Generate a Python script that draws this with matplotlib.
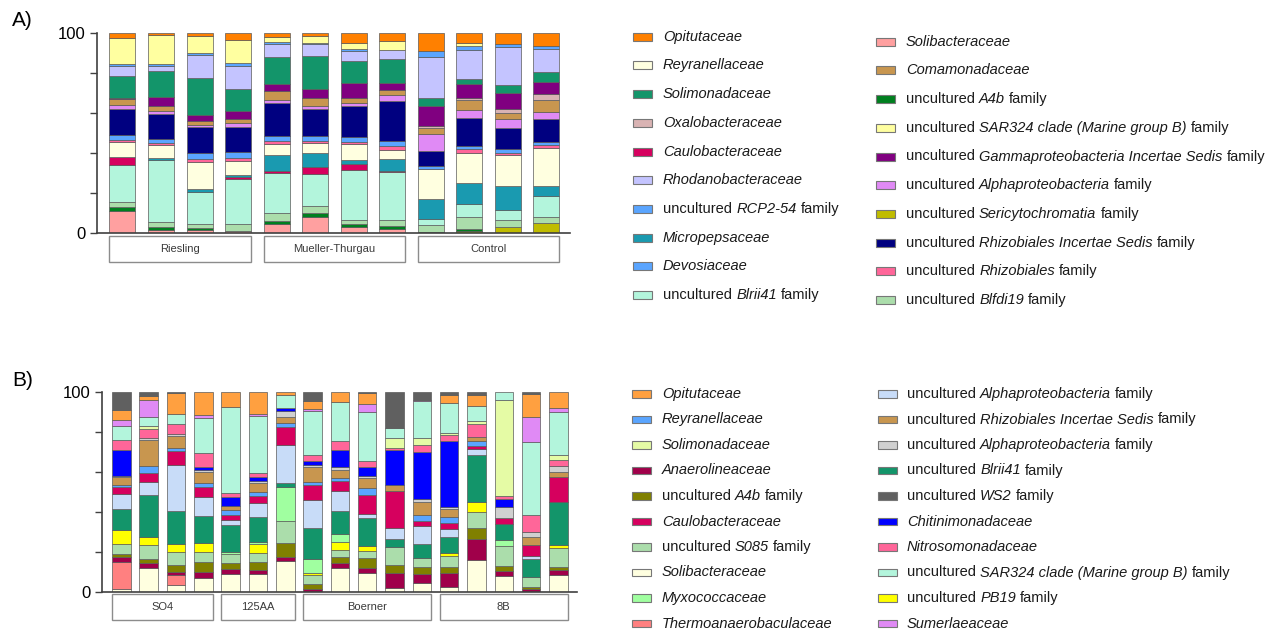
import matplotlib
matplotlib.use('Agg')
import matplotlib.pyplot as plt
from matplotlib.patches import Rectangle
import numpy as np

plt.rcParams['font.family'] = ['Liberation Sans', 'DejaVu Sans']

# ---------------- panel A data (12 samples, stack order bottom -> top) ----------------
groups_a = ['Riesling', 'Mueller-Thurgau', 'Control']
group_sizes_a = [4, 4, 4]

solib_a = [11, 1.5, 1.5, 1, 4.3, 7.8, 3.2, 1.8, 0, 0, 0, 0]
seric_a = [0, 0, 0, 0, 0, 0, 0, 0, 0, 1, 3.2, 4.8]
a4b_a = [2, 1.3, 1, 0, 1.8, 2, 1.3, 1.7, 0.5, 0.8, 0, 0]
blfdi_a = [2.5, 2.7, 2, 3.5, 3.7, 3.7, 2, 3, 3.5, 6.2, 3.3, 3]
blrii_a = [18.7, 31, 16.2, 22.5, 20, 16, 25, 23.8, 3, 6.7, 5, 10.7]
caulo_a = [3.8, 0, 0, 1.2, 1.3, 3.3, 2.8, 0.8, 0, 0, 0, 0]
micro_a = [0, 1, 1.3, 1, 7.8, 7.3, 2.2, 5.8, 10, 10.5, 12, 5.2]
reyr_a = [7.5, 6.5, 13.3, 6.7, 5.8, 4.7, 8, 4.8, 15, 14.7, 15.5, 18.7]
rhizo_a = [0.8, 0.8, 1.5, 1.7, 1.3, 1.3, 1.2, 1.7, 0, 2, 1.2, 1.7]
devos_a = [2.8, 2, 3, 2.7, 2.7, 2.5, 2.5, 2.7, 1.7, 1.7, 1.8, 1.2]
rhizis_a = [13, 12.7, 13, 12.8, 16.3, 13.2, 15.3, 20, 7.3, 13.7, 10.3, 11.8]
alpha_a = [1.7, 1.7, 1.2, 1.7, 1.3, 1.7, 1.3, 2.8, 8.5, 4.3, 4.5, 3.2]
coma_a = [3, 2.3, 2.2, 2.2, 4.5, 3.8, 2.5, 2.8, 2.8, 4.8, 3.3, 6.3]
oxalo_a = [0, 0, 0, 0, 0, 0, 0, 0, 1.3, 1.3, 1.7, 2.8]
gamma_a = [0.7, 4.3, 2.8, 4.2, 3.8, 4.5, 7.5, 3.5, 9.8, 6.7, 8.3, 6]
solim_a = [10.8, 13.2, 18.3, 10.7, 13.3, 16.8, 11.2, 12, 4.2, 2.8, 3.8, 5]
rhodano_a = [5.2, 2.5, 11.7, 11.8, 6.7, 5.8, 5, 4.5, 20.5, 14.3, 19.2, 11.5]
rcp_a = [1.2, 1, 0.8, 1.2, 0.8, 0.7, 0.8, 0, 2.8, 2, 1.3, 1.7]
sar_a = [12.6, 14.5, 8.5, 11.6, 2.4, 3.2, 3.3, 4.3, 0, 1.7, 0, 0]
opit_a = [2.7, 1, 1.7, 3.5, 2.2, 1.7, 4.9, 4, 9.1, 4.8, 5.6, 6.4]

stack_a = [
    ('*Solibacteraceae*', '#FFA0A0', solib_a),
    ('uncultured *Sericytochromatia* family', '#C0BC00', seric_a),
    ('uncultured *A4b* family', '#007F1F', a4b_a),
    ('uncultured *Blfdi19* family', '#ABDDAB', blfdi_a),
    ('uncultured *Blrii41* family', '#B3F5DC', blrii_a),
    ('*Caulobacteraceae*', '#D6005E', caulo_a),
    ('*Micropepsaceae*', '#1A9AB0', micro_a),
    ('*Reyranellaceae*', '#FFFFE0', reyr_a),
    ('uncultured *Rhizobiales* family', '#FF6699', rhizo_a),
    ('*Devosiaceae*', '#5AA5FF', devos_a),
    ('uncultured *Rhizobiales Incertae Sedis* family', '#000080', rhizis_a),
    ('uncultured *Alphaproteobacteria* family', '#E08AF5', alpha_a),
    ('*Comamonadaceae*', '#C8964F', coma_a),
    ('*Oxalobacteraceae*', '#D9B3B3', oxalo_a),
    ('uncultured *Gammaproteobacteria Incertae Sedis* family', '#800080', gamma_a),
    ('*Solimonadaceae*', '#13956A', solim_a),
    ('*Rhodanobacteraceae*', '#C4C4FF', rhodano_a),
    ('uncultured *RCP2-54* family', '#5AA5FF', rcp_a),
    ('uncultured *SAR324 clade (Marine group B)* family', '#FFFFA0', sar_a),
    ('*Opitutaceae*', '#FF8000', opit_a),
]
legend_a = [[19, 7, 15, 13, 5, 16, 17, 6, 9, 4],
            [0, 12, 2, 18, 14, 11, 1, 10, 8, 3]]

# ---------------- panel B data (17 samples) ----------------
groups_b = ['SO4', '125AA', 'Boerner', '8B']
group_sizes_b = [4, 3, 5, 5]

solib_b = [1.3, 11.8, 3.5, 6.8, 9, 9, 15.7, 0, 11.8, 9.7, 1.8, 4.7, 2.7, 16, 8, 0, 8.5]
thermo_b = [13.8, 0, 5, 0, 0, 0, 0, 0, 0, 0, 0, 0, 0, 0, 0, 0, 0]
anaero_b = [2.5, 2.5, 1.7, 3.3, 2.3, 2, 2, 1.3, 2.5, 2.2, 7.5, 4.2, 6.7, 10.3, 2.5, 1.3, 2.5]
a4b_b = [1.2, 2, 3.3, 4.7, 3.3, 4.2, 6.7, 2.7, 3.3, 5, 4.2, 3.8, 3.3, 5.8, 2.5, 1.3, 1.7]
s085_b = [5, 7.2, 6.3, 5, 4.3, 4.5, 11.2, 4.5, 3.3, 3.8, 8.8, 4.5, 5.3, 7.7, 10.2, 5, 9.2]
pb19_b = [7.2, 3.8, 4, 4.5, 0, 4.3, 0, 1.2, 4.2, 2.5, 0, 0, 1.7, 5.3, 0, 0, 1.7]
myxo_b = [0, 0, 0, 0, 1.2, 1.2, 16.7, 6.7, 3.8, 0, 0, 0, 0, 0, 2.8, 0, 0]
blrii_b = [10.3, 21.2, 16.7, 13.7, 13.3, 12.2, 2.2, 15.8, 11.5, 14, 4, 6.7, 8, 23.3, 7.8, 8.8, 21.2]
alpha1_b = [7.5, 6.3, 23, 9.7, 2.8, 7.3, 19.2, 13.8, 10, 1.7, 5.5, 9.2, 3.8, 3, 0, 1.7, 0]
caulo_b = [3.5, 4.8, 7.2, 5, 2.2, 3.3, 8.7, 7.5, 5, 9.7, 18.7, 2.5, 2.8, 1.7, 3.3, 5.3, 12.7]
reyr_b = [1.2, 3.5, 1.5, 1.7, 2.8, 2.2, 2.2, 1.7, 1.8, 3.3, 0, 2.7, 3.3, 2.5, 0, 0, 0]
rhizis_b = [3.8, 12.8, 5.8, 5.5, 1.7, 4.5, 3, 7.2, 4, 5.3, 3, 6.7, 3.8, 2, 0, 4.2, 2.3]
alpha2_b = [0.8, 1.3, 0.8, 1.2, 0, 1, 2.8, 1.2, 1.3, 0.8, 0, 1.7, 1.2, 0, 5.5, 2.5, 3.3]
chitin_b = [12.8, 0, 0, 1.3, 4.7, 1.7, 1.7, 2, 8.7, 4.7, 17.5, 23.2, 33, 0, 3.8, 0, 0]
nitroso_b = [5.3, 4.2, 5, 7, 1.7, 2.3, 0, 3, 4.2, 2.8, 1.2, 3.8, 2.8, 6.2, 1.5, 8.3, 3]
solim_b = [0, 1.7, 0, 0, 0, 0, 0, 0, 0, 0, 5, 3.3, 1.2, 1.7, 48, 0, 2.5]
sar_b = [6.8, 4.2, 5.3, 17.5, 43.3, 28.3, 6.2, 22, 19.7, 24.3, 5, 18.3, 15, 7.5, 4.1, 36.7, 21.2]
sumer_b = [2.8, 8.7, 0, 1.7, 0, 1, 0, 1, 0, 4, 0, 0.8, 0, 0, 0, 12.2, 2.2]
opit_b = [5, 2, 10.4, 11.4, 7.4, 11, 1.7, 3.7, 4.9, 5.5, 0, 0, 3.8, 5.5, 0, 11.7, 8]
ws2_b = [9.2, 2, 0.3, 0, 0, 0, 0, 4.7, 0, 0.7, 17.8, 3.9, 1.6, 1.5, 0, 1, 0]

stack_b = [
    ('*Solibacteraceae*', '#FFFFE0', solib_b),
    ('*Thermoanaerobaculaceae*', '#FF8080', thermo_b),
    ('*Anaerolineaceae*', '#A0004A', anaero_b),
    ('uncultured *A4b* family', '#808000', a4b_b),
    ('uncultured *S085* family', '#ABDDAB', s085_b),
    ('uncultured *PB19* family', '#FFFF00', pb19_b),
    ('*Myxococcaceae*', '#A0FFA0', myxo_b),
    ('uncultured *Blrii41* family', '#13956A', blrii_b),
    ('uncultured *Alphaproteobacteria* family', '#C8DCF8', alpha1_b),
    ('*Caulobacteraceae*', '#D6005E', caulo_b),
    ('*Reyranellaceae*', '#5AA5FF', reyr_b),
    ('uncultured *Rhizobiales Incertae Sedis* family', '#C8964F', rhizis_b),
    ('uncultured *Alphaproteobacteria* family', '#D0D0D0', alpha2_b),
    ('*Chitinimonadaceae*', '#0000FF', chitin_b),
    ('*Nitrosomonadaceae*', '#FF6699', nitroso_b),
    ('*Solimonadaceae*', '#E5FBA5', solim_b),
    ('uncultured *SAR324 clade (Marine group B)* family', '#B3F5DC', sar_b),
    ('*Sumerlaeaceae*', '#E08AF5', sumer_b),
    ('*Opitutaceae*', '#FFA040', opit_b),
    ('uncultured *WS2* family', '#606060', ws2_b),
]
legend_b = [[18, 10, 15, 2, 3, 9, 4, 0, 6, 1],
            [8, 11, 12, 7, 19, 13, 14, 16, 5, 17]]

W, H = 1272, 630
fig = plt.figure(figsize=(W / 100, H / 100), dpi=100)

# overlay in pixel coordinates for legends and panel letters
ov = fig.add_axes([0, 0, 1, 1])
ov.set_xlim(0, W)
ov.set_ylim(H, 0)
ov.axis('off')


def stacked(ax, stack, groups, sizes, width, box_y):
    n = len(stack[0][2])
    x = np.arange(n)
    bottom = np.zeros(n)
    for label, color, vals in stack:
        v = np.array(vals, dtype=float)
        m = v > 0
        ax.bar(x[m], v[m], bottom=bottom[m], width=width, color=color,
               edgecolor='#5a5a5a', linewidth=0.5)
        bottom += v
    ax.set_ylim(0, 100)
    ax.set_yticks([0, 20, 40, 60, 80, 100])
    ax.set_yticklabels(['0', '', '', '', '', '100'])
    ax.set_xticks([])
    ax.tick_params(axis='y', length=5, width=1, labelsize=12, color='#404040', pad=3)
    for s in ['top', 'right']:
        ax.spines[s].set_visible(False)
    for s in ['left', 'bottom']:
        ax.spines[s].set_color('#404040')
        ax.spines[s].set_linewidth(1.2)
    start = 0
    y0, y1 = box_y
    for g, k in zip(groups, sizes):
        x0 = start - width / 2
        x1 = start + k - 1 + width / 2
        ax.add_patch(Rectangle((x0, y0), x1 - x0, y1 - y0, fill=False,
                               edgecolor='#8c8c8c', linewidth=1, clip_on=False))
        ax.text((x0 + x1) / 2, (y0 + y1) / 2, g, ha='center', va='center',
                fontsize=8, color='#3a3a3a', clip_on=False)
        start += k


ax_a = fig.add_axes([97 / W, (H - 233) / H, (570 - 97) / W, 200 / H])
ax_a.set_xlim(-0.662, 11.62)
stacked(ax_a, stack_a, groups_a, group_sizes_a, 0.675, (-14.5, -1.25))

ax_b = fig.add_axes([102 / W, (H - 592) / H, (577 - 102) / W, 200 / H])
ax_b.set_xlim(-0.71, 16.68)
stacked(ax_b, stack_b, groups_b, group_sizes_b, 0.677, (-14, -1))


def rich_label(x, y, label, fs):
    parts = label.split('*')
    prev = None
    gap = False
    for i, p in enumerate(parts):
        style = 'italic' if i % 2 == 1 else 'normal'
        if p.strip() == '':
            if p != '':
                gap = True
            continue
        lead = p[0] == ' '
        txt = p.strip()
        if prev is None:
            prev = ov.annotate(txt, xy=(x, y), xycoords='data', ha='left', va='center',
                               fontsize=fs, style=style, color='#1a1a1a')
        else:
            off = 0.278 * fs if (gap or lead) else 0
            prev = ov.annotate(txt, xy=(1, 0), xycoords=prev, xytext=(off, 0),
                               textcoords='offset points', ha='left', va='bottom',
                               fontsize=fs, style=style, color='#1a1a1a')
        gap = p[-1] == ' '


def draw_legend(stack, cols, sw_x, txt_x, y_start, dy, sw_h, fs):
    for c, idxs in enumerate(cols):
        for r, i in enumerate(idxs):
            label, color, _ = stack[i]
            yc = y_start[c] + r * dy
            ov.add_patch(Rectangle((sw_x[c], yc - sw_h / 2), 19, sw_h, facecolor=color,
                                   edgecolor='#777777', linewidth=0.8))
            rich_label(txt_x[c], yc, label, fs)


draw_legend(stack_a, legend_a, [633, 876], [663, 906], [36.7, 41.7], 28.7, 8, 10.5)
draw_legend(stack_b, legend_b, [632, 878], [662, 907], [394, 394], 25.5, 7.5, 10.5)

ov.text(12, 20, 'A)', fontsize=15, va='center', ha='left')
ov.text(12, 381, 'B)', fontsize=15, va='center', ha='left')

fig.savefig('out.png', dpi=100)
